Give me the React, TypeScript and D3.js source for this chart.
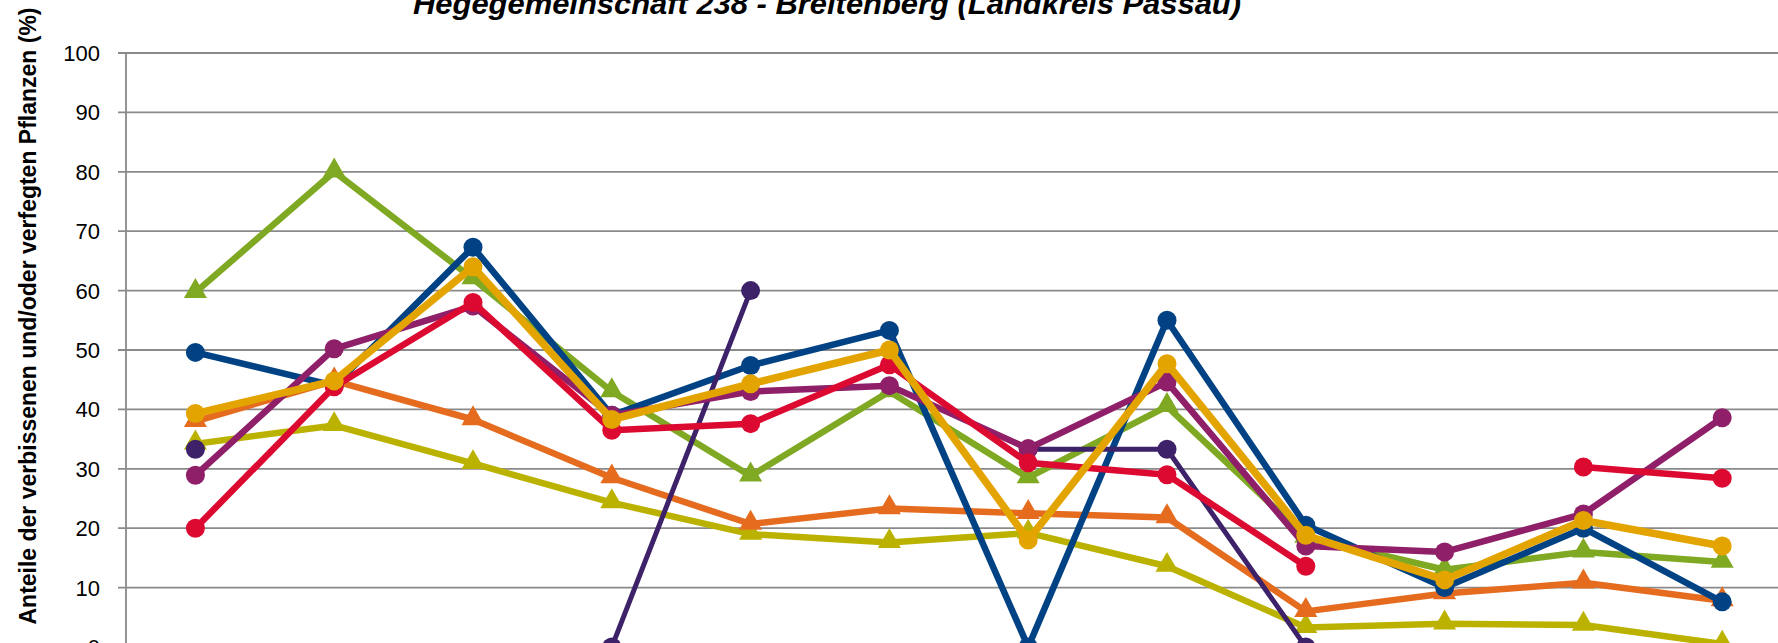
import * as d3 from 'd3'

const years = ['1991', '1994', '1997', '2000', '2003', '2006', '2009', '2012', '2015', '2018', '2021', '2024']
const yTicks = [0, 10, 20, 30, 40, 50, 60, 70, 80, 90, 100]

type V = number | null

// values (percent), null = no survey value
const olive: V[] = [34.2, 37.3, 30.9, 24.3, 19, 17.6, 19.2, 13.6, 3.3, 3.9, 3.7, 0.5]
const orange: V[] = [38, 44.8, 38.3, 28.5, 20.7, 23.3, 22.5, 21.8, 6, 9, 10.8, 7.8]
const green: V[] = [59.7, 80, 62, 43, 28.8, 43, 28.5, 40.5, 18.5, 13, 16, 14.3]
const blue: V[] = [49.6, 44, 67.3, 39, 47.4, 53.3, 0, 55, 20.5, 10, 20, 7.6]
const darkPurple: V[] = [33.3, null, null, 0, 60, null, 33.3, 33.3, 0, null, null, null]
const magenta: V[] = [28.9, 50.2, 57.4, 39, 43, 44, 33.4, 44.6, 17, 16, 22.4, 38.6]
const red: V[] = [20, 43.8, 58, 36.5, 37.6, 47.5, 31, 29, 13.6, null, 30.3, 28.4]
const gold: V[] = [39.3, 44.8, 64, 38.3, 44.3, 50, 18, 47.7, 18.8, 11.3, 21.3, 17]

type Series = { values: V[]; color: string; width: number; marker: 'circle' | 'triangle' }

const series: Series[] = [
  { values: olive, color: '#bbb200', width: 6.5, marker: 'triangle' },
  { values: orange, color: '#e56b1f', width: 6.5, marker: 'triangle' },
  { values: green, color: '#80a923', width: 6.5, marker: 'triangle' },
  { values: blue, color: '#004283', width: 6.5, marker: 'circle' },
  { values: darkPurple, color: '#3d2169', width: 5, marker: 'circle' },
  { values: magenta, color: '#8f1f68', width: 6.5, marker: 'circle' },
  { values: red, color: '#dc0a31', width: 6.5, marker: 'circle' },
  { values: gold, color: '#e4a400', width: 7.5, marker: 'circle' },
]

const width = 1778
const height = 643
const axisX = 126
const step = 138.8

export default function App() {
  const x = d3
    .scaleBand<string>()
    .domain(years)
    .range([axisX, axisX + years.length * step])
    .padding(0)
  const cx = (c: string) => (x(c) as number) + x.bandwidth() / 2

  const y = d3.scaleLinear().domain([0, 100]).range([647, 53])

  const line = d3
    .line<V>()
    .defined((d) => d != null)
    .x((_, i) => cx(years[i]))
    .y((d) => y(d as number))

  const tri = d3.symbol().type(d3.symbolTriangle).size(230)

  return (
    <svg
      width={width}
      height={height}
      style={{ position: 'absolute', left: 0, top: 0, background: '#fff' }}
    >
      <text
        x={827}
        y={14}
        textAnchor="middle"
        fontFamily="Liberation Sans, Arial, sans-serif"
        fontWeight="bold"
        fontStyle="italic"
        fontSize={29}
        textLength={828}
        lengthAdjust="spacingAndGlyphs"
      >
        Hegegemeinschaft 238 - Breitenberg (Landkreis Passau)
      </text>

      <text
        transform="translate(36,316) rotate(-90)"
        textAnchor="middle"
        fontFamily="Liberation Sans, Arial, sans-serif"
        fontWeight="bold"
        fontSize={24}
        textLength={617}
        lengthAdjust="spacingAndGlyphs"
      >
        Anteile der verbissenen und/oder verfegten Pflanzen (%)
      </text>

      {/* grid + ticks */}
      {yTicks.map((t) => (
        <g key={t}>
          <line x1={118} x2={width} y1={y(t)} y2={y(t)} stroke="#8a8a8a" strokeWidth={1.8} />
          <text
            x={100}
            y={y(t)}
            dy="0.36em"
            textAnchor="end"
            fontFamily="Liberation Sans, Arial, sans-serif"
            fontSize={22}
            fill="#000"
          >
            {t}
          </text>
        </g>
      ))}
      <line x1={axisX} x2={axisX} y1={y(100)} y2={height} stroke="#8a8a8a" strokeWidth={1.8} />

      {series.map((s, si) => (
        <g key={si}>
          <path
            d={line(s.values) as string}
            fill="none"
            stroke={s.color}
            strokeWidth={s.width}
            strokeLinejoin="round"
          />
          {s.values.map((v, i) =>
            v == null ? null : s.marker === 'circle' ? (
              <circle key={i} cx={cx(years[i])} cy={y(v)} r={9.5} fill={s.color} />
            ) : (
              <path
                key={i}
                d={tri() as string}
                transform={`translate(${cx(years[i])},${y(v) - 1})`}
                fill={s.color}
              />
            )
          )}
        </g>
      ))}
    </svg>
  )
}
